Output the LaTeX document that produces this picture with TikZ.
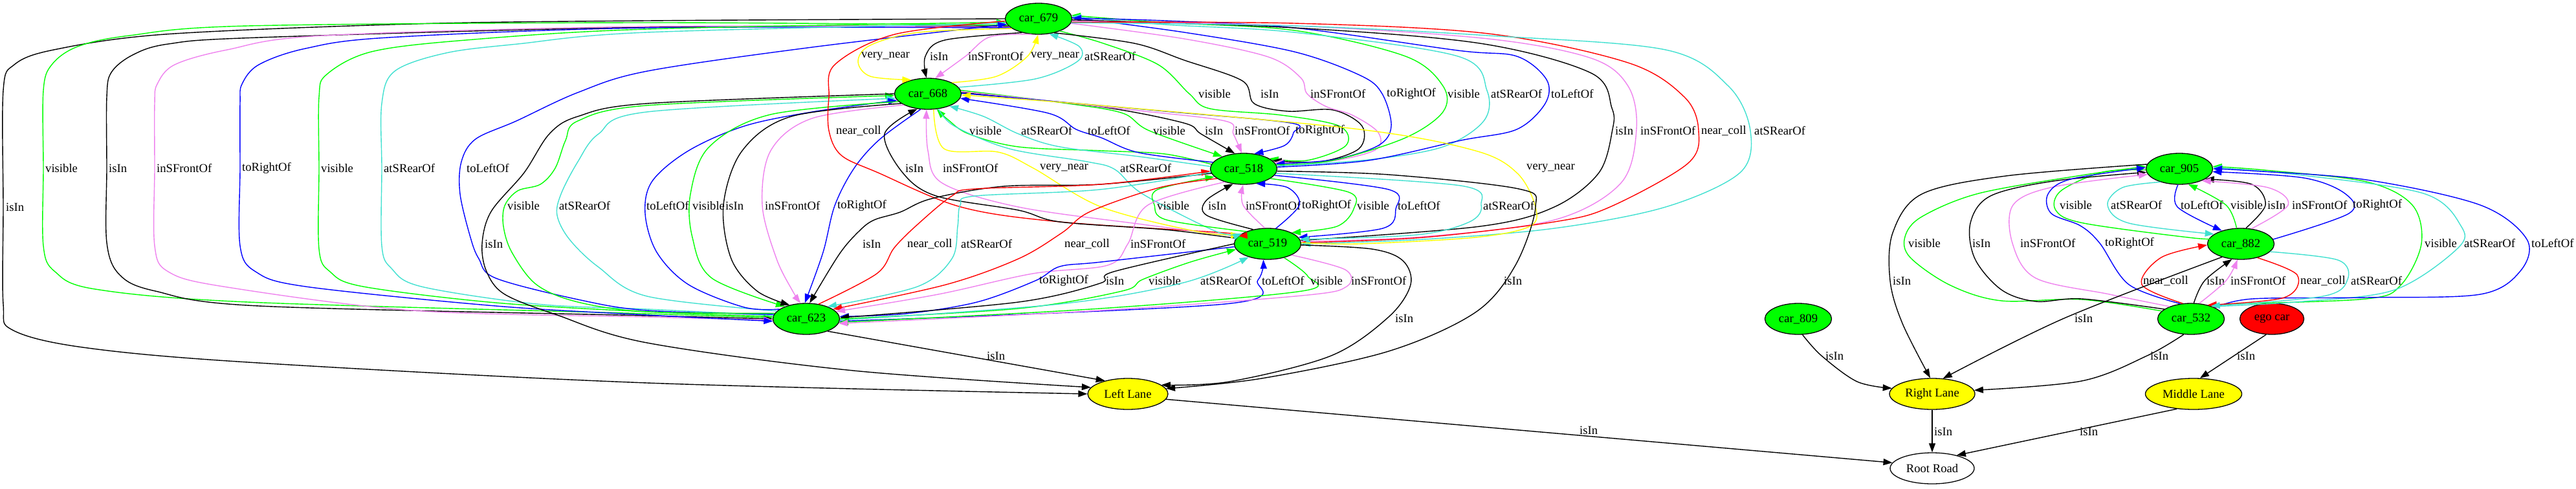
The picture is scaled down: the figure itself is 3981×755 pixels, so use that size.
\documentclass[tikz,border=0pt]{standalone}
\usepackage{fontspec}
\setmainfont{Liberation Serif}
\usetikzlibrary{shapes.geometric,arrows.meta}
\definecolor{gG}{RGB}{0,255,0}
\definecolor{gB}{RGB}{0,0,255}
\definecolor{gR}{RGB}{255,0,0}
\definecolor{gY}{RGB}{255,255,0}
\definecolor{gT}{RGB}{64,224,208}
\definecolor{gV}{RGB}{238,130,238}
\definecolor{gK}{RGB}{0,0,0}
\newcommand\nf{\fontsize{18.67}{22}\selectfont}
\newcounter{lc}
\newcommand\ed[5]{\draw[edg,draw=#1] plot[smooth,tension=0.55] coordinates {#2};\stepcounter{lc}\node[lbl] (L\arabic{lc}) at (#3,#4) {#5};}
\tikzset{
  nd/.style={ellipse, draw=black, line width=1.3pt, minimum height=48pt, inner sep=0pt, font=\nf},
  car/.style={nd, fill=gG, minimum width=103pt},
  lane/.style={nd, fill=gY},
  edg/.style={line width=1.4pt, -{Triangle[length=14pt,width=10pt]}},
  lbl/.style={anchor=west, inner sep=0pt, font=\nf}
}
\begin{document}
\begin{tikzpicture}[x=1pt,y=-1pt]
\useasboundingbox (0,0) rectangle (3981,755);
% nodes
\node[car] (A) at (1605,29) {car\_679};
\node[car] (B) at (1434,145) {car\_668};
\node[car] (C) at (1922,261) {car\_518};
\node[car] (D) at (1959,377) {car\_519};
\node[car] (E) at (1246,493) {car\_623};
\node[lane, minimum width=124pt] (LL) at (1743,609) {Left Lane};
\node[car] (F) at (3368,261) {car\_905};
\node[car] (G) at (3463,377) {car\_882};
\node[car] (H) at (3386,493) {car\_532};
\node[car] (I) at (2779,493) {car\_809};
\node[nd, fill=gR, minimum width=99pt] (J) at (3511,493) {ego car};
\node[lane, minimum width=132pt] (RL) at (2986,609) {Right Lane};
\node[lane, minimum width=149pt] (ML) at (3390,609) {Middle Lane};
\node[nd, fill=white, minimum width=130pt] (RR) at (2986,724) {Root Road};

% A -> LL far loop
\ed{gK}{(A.180) (1000,32) (638,37) (255,53) (83,77) (22,100) (5,140) (5,320) (5,470) (19,510) (128,537) (383,560) (1000,592) (LL.180)}{9}{320}{isIn}
% A -> E loops
\ed{gG}{(A.192) (1000,35) (383,40) (200,55) (120,72) (80,100) (67,140) (67,260) (67,380) (85,420) (147,447) (383,467) (1000,485) (E.178)}{70}{260}{visible}
\ed{gK}{(A.194) (1000,42) (400,58) (260,68) (205,85) (172,112) (165,150) (165,260) (165,375) (185,425) (240,450) (400,473) (1000,488) (E.180)}{168}{260}{isIn}
\ed{gV}{(A.196) (1000,41) (500,55) (351,77) (270,100) (243,130) (239,160) (239,260) (239,380) (260,420) (345,443) (638,480) (1000,490) (E.182)}{242}{260}{inSFrontOf}
\ed{gB}{(A.198) (1000,43) (600,58) (472,75) (400,100) (374,130) (371,160) (371,260) (371,380) (395,420) (472,443) (766,473) (1000,487) (E.184)}{374}{260}{toRightOf}
\ed{gG}{(E.176) (1000,482) (766,468) (561,443) (510,420) (493,385) (493,260) (493,150) (505,115) (574,80) (720,62) (1000,45) (A.186)}{496}{260}{visible}
\ed{gT}{(E.174) (1000,478) (829,470) (651,443) (605,415) (590,380) (590,260) (590,160) (610,110) (689,82) (800,68) (1000,50) (A.188)}{593}{260}{atSRearOf}
\ed{gB}{(E.172) (1000,480) (893,463) (766,430) (740,400) (727,367) (711,300) (713,250) (735,215) (798,187) (893,143) (1000,110) (1255,73) (A.190)}{721}{260}{toLeftOf}
% B - E
\ed{gG}{(E.170) (1000,482) (893,467) (829,440) (791,390) (778,350) (780,318) (800,295) (835,285) (858,260) (874,217) (893,187) (1000,163) (B.183)}{784}{318}{visible}
\ed{gT}{(E.165) (1000,458) (925,413) (880,370) (861,333) (867,300) (893,250) (925,207) (1000,173) (B.188)}{864}{318}{atSRearOf}
\ed{gB}{(E.160) (1150,475) (1064,440) (1015,390) (997,330) (1008,280) (1064,233) (1150,195) (1255,173) (B.192)}{999}{318}{toLeftOf}
\ed{gG}{(B.195) (1191,177) (1096,227) (1067,300) (1070,367) (1100,430) (E.150)}{1070}{318}{visible}
\ed{gK}{(B.200) (1223,180) (1147,233) (1118,317) (1130,400) (1170,450) (E.140)}{1121}{318}{isIn}
\ed{gV}{(B.205) (1255,183) (1191,233) (1178,317) (1200,400) (1225,450) (E.110)}{1182}{318}{inSFrontOf}
\ed{gB}{(B.245) (1360,215) (1320,260) (1290,318) (1272,390) (E.95)}{1294}{318}{toRightOf}
\ed{gK}{(B.180) (1000,160) (893,180) (849,207) (810,267) (759,327) (745,377) (752,420) (780,455) (861,487) (1000,530) (1319,573) (LL.170)}{749}{377}{isIn}
% A - B
\ed{gY}{(A.200) (1420,50) (1345,70) (1326,95) (1345,118) (B.140)}{1331}{87}{very\_near}
\ed{gK}{(A.220) (1460,62) (1430,87) (B.95)}{1437}{87}{isIn}
\ed{gV}{(A.245) (1530,57) (1492,87) (B.65)}{1496}{87}{inSFrontOf}
\ed{gY}{(B.25) (1540,118) (1588,87) (A.268)}{1593}{87}{very\_near}
\ed{gT}{(B.12) (1600,122) (1665,95) (1668,72) (A.305)}{1676}{87}{atSRearOf}
% A - C
\ed{gG}{(A.330) (1705,67) (1790,100) (1838,145) (1870,168) (1980,178) (2070,195) (2080,225) (2020,248) (C.22)}{1852}{145}{visible}
\ed{gK}{(A.318) (1753,67) (1830,93) (1920,125) (1938,160) (1990,172) (2060,170) (2105,195) (2100,230) (2040,250) (C.16)}{1948}{145}{isIn}
\ed{gV}{(A.352) (1830,60) (1960,88) (2010,120) (2020,145) (2050,165) (2090,178) (2130,205) (2125,232) (2050,250) (C.12)}{2025}{145}{inSFrontOf}
\ed{gB}{(A.2) (1830,50) (2000,80) (2103,117) (2136,145) (2150,195) (2130,225) (2060,247) (C.9)}{2143}{145}{toRightOf}
\ed{gG}{(C.7) (2060,248) (2172,213) (2230,173) (2230,133) (2172,87) (2000,47) (1800,35) (A.6)}{2237}{145}{visible}
\ed{gT}{(C.5) (2115,247) (2230,227) (2293,187) (2298,140) (2253,87) (2000,50) (1800,38) (A.4)}{2304}{145}{atSRearOf}
\ed{gB}{(C.3) (2115,248) (2258,217) (2344,200) (2388,160) (2390,123) (2344,87) (2253,78) (2000,43) (1800,32) (A.1)}{2397}{145}{toLeftOf}
% A - D
\ed{gK}{(A.358) (2000,43) (2287,67) (2459,113) (2491,167) (2492,200) (2471,267) (2402,320) (2287,350) (D.6)}{2496}{202}{isIn}
\ed{gV}{(A.356) (2000,40) (2300,60) (2459,90) (2516,133) (2529,200) (2505,283) (2402,340) (2200,366) (D.4)}{2535}{202}{inSFrontOf}
\ed{gR}{(A.354) (2000,36) (2300,52) (2516,97) (2603,150) (2625,202) (2608,253) (2488,320) (2402,343) (2200,367) (D.2)}{2629}{202}{near\_coll}
\ed{gT}{(A.353) (2000,40) (2300,55) (2574,77) (2671,133) (2705,202) (2689,267) (2574,320) (2402,353) (2200,370) (D.0)}{2711}{202}{atSRearOf}
\ed{gR}{(A.184) (1383,53) (1290,100) (1281,150) (1281,202) (1300,240) (1357,267) (1485,320) (1638,343) (1893,360) (D.165)}{1292}{202}{near\_coll}
% B - C
\ed{gG}{(C.172) (1800,238) (1702,233) (1574,227) (1497,207) (1465,185) (B.300)}{1498}{202}{visible}
\ed{gT}{(C.176) (1760,242) (1638,227) (1574,207) (1520,180) (B.330)}{1578}{202}{atSRearOf}
\ed{gB}{(C.168) (1760,236) (1702,213) (1663,200) (1620,175) (B.352)}{1681}{202}{toLeftOf}
\ed{gG}{(B.6) (1650,160) (1735,175) (1776,202) (C.150)}{1782}{202}{visible}
\ed{gK}{(B.2) (1700,165) (1829,190) (1856,207) (C.120)}{1862}{202}{isIn}
\ed{gV}{(B.4) (1750,170) (1893,187) (1906,207) (C.97)}{1908}{202}{inSFrontOf}
\ed{gB}{(B.1) (1800,172) (1994,190) (1999,205) (1985,225) (C.55)}{2002}{202}{toRightOf}
% B - D
\ed{gK}{(D.170) (1800,355) (1638,343) (1574,325) (1447,303) (1395,267) (1367,207) (B.235)}{1399}{260}{isIn}
\ed{gV}{(D.166) (1766,347) (1574,320) (1456,283) (1434,233) (B.265)}{1457}{260}{inSFrontOf}
\ed{gY}{(B.290) (1459,230) (1542,235) (1597,260) (1702,320) (1850,358) (D.162)}{1607}{260}{very\_near}
\ed{gT}{(B.305) (1475,195) (1560,230) (1680,250) (1723,262) (1766,300) (1880,358) (D.158)}{1731}{260}{atSRearOf}
\ed{gY}{(D.2) (2100,377) (2280,367) (2364,350) (2373,320) (2345,268) (2280,233) (2101,200) (1700,163) (B.358)}{2359}{260}{very\_near}
% C - D
\ed{gG}{(D.150) (1803,340) (1784,317) (1789,293) (C.195)}{1788}{318}{visible}
\ed{gK}{(D.135) (1865,333) (1864,310) (C.235)}{1867}{318}{isIn}
\ed{gV}{(D.100) (1921,317) (C.268)}{1925}{318}{inSFrontOf}
\ed{gB}{(D.62) (2008,317) (1990,290) (C.310)}{2012}{318}{toRightOf}
\ed{gG}{(C.340) (2084,297) (2092,323) (2066,350) (D.25)}{2097}{318}{visible}
\ed{gB}{(C.348) (2146,293) (2157,323) (2137,353) (D.12)}{2160}{318}{toLeftOf}
\ed{gT}{(C.352) (2257,287) (2289,317) (2271,343) (2190,363) (D.8)}{2292}{318}{atSRearOf}
% C - E
\ed{gK}{(C.188) (1700,285) (1551,288) (1440,307) (1391,328) (1351,340) (1328,357) (1297,393) (E.78)}{1333}{377}{isIn}
\ed{gR}{(E.50) (1355,423) (1382,383) (1418,347) (1471,303) (1507,292) (1700,285) (C.184)}{1402}{377}{near\_coll}
\ed{gT}{(C.186) (1700,293) (1507,303) (1484,317) (1480,350) (1471,400) (1418,443) (E.30)}{1485}{377}{atSRearOf}
\ed{gR}{(C.200) (1792,290) (1685,327) (1641,360) (1574,400) (1462,440) (E.20)}{1645}{377}{near\_coll}
\ed{gV}{(C.215) (1774,317) (1743,377) (1712,410) (1596,423) (1450,455) (E.14)}{1747}{377}{inSFrontOf}
% D - E
\ed{gB}{(D.185) (1702,405) (1638,412) (1600,434) (1510,467) (1400,485) (E.4)}{1606}{434}{toRightOf}
\ed{gK}{(D.180) (1721,420) (1700,438) (1574,467) (E.2)}{1709}{434}{isIn}
\ed{gG}{(E.0) (1574,477) (1734,450) (1766,432) (1840,405) (D.190)}{1775}{434}{visible}
\ed{gT}{(E.358) (1638,470) (1829,437) (D.215)}{1855}{434}{atSRearOf}
\ed{gB}{(E.356) (1893,470) (1944,433) (D.255)}{1950}{434}{toLeftOf}
\ed{gG}{(D.320) (2021,427) (2012,450) (1700,477) (E.354)}{2025}{434}{visible}
\ed{gV}{(D.335) (2079,417) (2081,443) (2012,457) (1700,480) (E.352)}{2088}{434}{inSFrontOf}
% lanes left
\ed{gK}{(D.358) (2120,385) (2168,403) (2180,440) (2146,490) (2057,550) (1900,590) (LL.15)}{2156}{492}{isIn}
\ed{gK}{(C.356) (2146,270) (2347,292) (2373,320) (2342,410) (2280,483) (2146,543) (1950,585) (LL.8)}{2324}{434}{isIn}
\ed{gK}{(E.330) (LL.150)}{1525}{550}{isIn}
\ed{gK}{(LL.352) (RR.172)}{2441}{665}{isIn}
% right cluster
\ed{gG}{(F.182) (3250,266) (3185,295) (3177,325) (3220,345) (3390,368) (G.168)}{3183}{317}{visible}
\ed{gT}{(F.215) (3280,290) (3257,317) (3290,345) (G.160)}{3262}{317}{atSRearOf}
\ed{gB}{(F.265) (3365,320) (G.145)}{3370}{317}{toLeftOf}
\ed{gG}{(G.105) (3440,317) (F.300)}{3447}{317}{visible}
\ed{gK}{(G.72) (3501,317) (3480,285) (F.338)}{3504}{317}{isIn}
\ed{gV}{(G.55) (3536,317) (3505,290) (F.332)}{3542}{317}{inSFrontOf}
\ed{gB}{(G.8) (3630,330) (3625,300) (3560,275) (F.355)}{3636}{317}{toRightOf}
\ed{gG}{(H.165) (3217,463) (3093,465) (3014,441) (2952,398) (2944,366) (2970,335) (3058,299) (3217,271) (F.176)}{2949}{376}{visible}
\ed{gK}{(H.160) (3217,462) (3146,466) (3093,448) (3052,400) (3045,345) (3076,303) (3173,280) (F.186)}{3048}{376}{isIn}
\ed{gV}{(H.150) (3260,455) (3146,430) (3110,376) (3111,317) (3173,289) (F.190)}{3122}{376}{inSFrontOf}
\ed{gB}{(H.125) (3290,440) (3245,376) (3215,349) (3170,330) (3165,300) (3200,277) (F.178)}{3253}{376}{toRightOf}
\ed{gG}{(H.35) (3450,470) (3657,462) (3710,441) (3742,377) (3728,317) (3657,281) (3500,263) (F.4)}{3747}{376}{visible}
\ed{gT}{(H.30) (3560,466) (3701,448) (3798,384) (3803,349) (3745,299) (3550,270) (F.2)}{3808}{376}{atSRearOf}
\ed{gB}{(H.25) (3481,462) (3657,460) (3833,455) (3895,419) (3905,370) (3833,317) (3657,278) (3480,264) (F.0)}{3912}{376}{toLeftOf}
\ed{gR}{(H.118) (3310,440) (3340,398) (G.182)}{3312}{434}{near\_coll}
\ed{gK}{(H.80) (3407,434) (G.240)}{3410}{434}{isIn}
\ed{gV}{(H.62) (3440,434) (G.258)}{3447}{434}{inSFrontOf}
\ed{gR}{(G.320) (3550,425) (3530,460) (H.40)}{3555}{434}{near\_coll}
\ed{gT}{(G.345) (3613,402) (3628,432) (3590,458) (H.33)}{3633}{434}{atSRearOf}
\ed{gK}{(G.215) (3190,492) (RL.55)}{3206}{492}{isIn}
\ed{gK}{(F.172) (3100,272) (2970,300) (2925,360) (2921,434) (2940,500) (RL.97)}{2925}{434}{isIn}
\ed{gK}{(I.285) (2815,550) (2870,590) (RL.172)}{2821}{550}{isIn}
\ed{gK}{(H.245) (3318,550) (3217,589) (RL.5)}{3323}{550}{isIn}
\ed{gK}{(J.250) (ML.68)}{3457}{550}{isIn}
\ed{gK}{(RL.270) (RR.90)}{2989}{667}{isIn}
\ed{gK}{(ML.222) (RR.28)}{3214}{667}{isIn}
\end{tikzpicture}
\end{document}
